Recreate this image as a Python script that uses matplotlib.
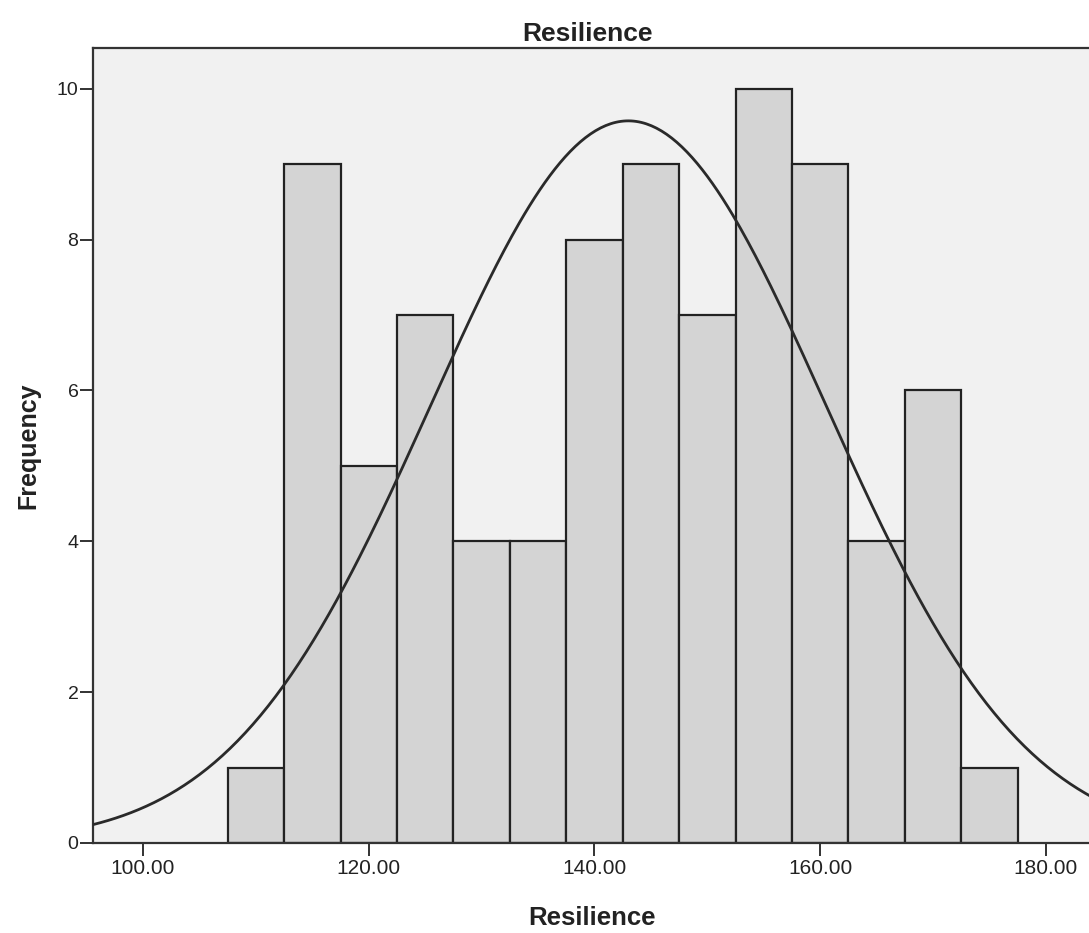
import numpy as np
import matplotlib
matplotlib.use("Agg")
import matplotlib.pyplot as plt

plt.rcParams['font.family'] = ['Liberation Sans', 'DejaVu Sans']

bin_edges = [107.5, 112.5, 117.5, 122.5, 127.5, 132.5, 137.5, 142.5, 147.5, 152.5, 157.5, 162.5, 167.5, 172.5, 177.5]
counts = [1, 9, 5, 7, 4, 4, 8, 9, 7, 10, 9, 4, 6, 1]
curve_mean = 143.0
curve_sd = 17.5
n_total = sum(counts)
bin_width = 5.0
xticks = [100, 120, 140, 160, 180]
yticks = [0, 2, 4, 6, 8, 10]

fig = plt.figure(figsize=(10.89, 9.33), dpi=100)
ax = fig.add_axes([0.0854, 0.0965, 0.93, 0.852])
ax.set_facecolor('#f1f1f1')

lefts = bin_edges[:-1]
widths = np.diff(bin_edges)
ax.bar(lefts, counts, width=widths, align='edge', color='#d4d4d4',
       edgecolor='#222222', linewidth=1.6, zorder=2)

x_lo, x_hi = 95.57, 185.3
xs = np.linspace(x_lo, x_hi, 400)
ys = n_total * bin_width / (curve_sd * np.sqrt(2 * np.pi)) * np.exp(-0.5 * ((xs - curve_mean) / curve_sd) ** 2)
ax.plot(xs, ys, color='#2a2a2a', linewidth=2.0, zorder=3)

ax.set_xlim(x_lo, x_hi)
ax.set_ylim(0, 10.54)
ax.set_xticks(xticks)
ax.set_xticklabels([f"{v:.2f}" for v in xticks])
ax.set_yticks(yticks)
ax.tick_params(axis='both', direction='out', length=9.5, width=1.3, colors='#222222')
ax.tick_params(axis='x', labelsize=15, pad=2)
ax.tick_params(axis='y', labelsize=14, pad=1)
for s in ax.spines.values():
    s.set_linewidth(1.6)
    s.set_color('#333333')

ax.set_title('Resilience', fontsize=19, fontweight='bold', pad=5, color='#222222', x=0.488)
ax.set_xlabel('Resilience', fontsize=18.5, fontweight='bold', labelpad=20, color='#222222', x=0.493)
ax.set_ylabel('Frequency', fontsize=18, fontweight='bold', labelpad=12, color='#222222')

fig.savefig('out.png', dpi=100, facecolor='white')
